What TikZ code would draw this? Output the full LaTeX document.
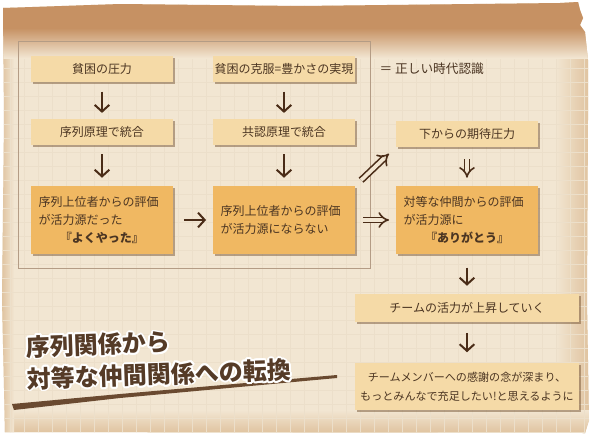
\documentclass[tikz,border=0pt]{standalone}
\usepackage{fontspec}
\newfontfamily\jp{Noto Sans CJK JP}
\usepackage{contour}
\contourlength{1.3pt}
\usetikzlibrary{arrows.meta, positioning, shadows}

\definecolor{paper}{HTML}{F2E6D2}
\definecolor{gridc}{HTML}{ECDFCA}
\definecolor{band}{HTML}{C69163}
\definecolor{edge}{HTML}{DDBE98}
\definecolor{boxlight}{HTML}{F5DAA7}
\definecolor{boxdark}{HTML}{F0B862}
\definecolor{ink}{HTML}{4B3522}
\definecolor{arrowc}{HTML}{4A2C17}
\definecolor{framec}{HTML}{B49C85}
\definecolor{brush}{HTML}{6A4A30}

\begin{document}
\begin{tikzpicture}[x=0.75pt, y=-0.75pt, font=\jp\fontsize{9}{13.5}\selectfont,
    every node/.style={text=ink},
    pale/.style={fill=boxlight, align=center, inner sep=0pt,
        minimum width=106.5pt, minimum height=19.5pt,
        drop shadow={shadow xshift=1.2pt, shadow yshift=-1.5pt, opacity=0.45, fill=brown!55!black}},
    deep/.style={pale, fill=boxdark, minimum height=51pt, text width=95pt, align=left},
    wide/.style={pale, minimum width=168pt, minimum height=21pt},
    dn/.style={draw=arrowc, line width=1.5pt, -{Straight Barb[length=5pt, width=11pt]}},
    dbl/.style={draw=arrowc, double=paper, double distance=2.8pt, line width=1.2pt, -{Implies}}]

    % paper
    \useasboundingbox (0,0) rectangle (594,436);
    \fill[white] (0,0) rectangle (594,436);
    \path[fill=paper] (3,8) -- (120,4) -- (300,6) -- (560,3) -- (578,2) -- (580,10)
        -- (583,18) -- (580,25) -- (585,32) -- (588,60) -- (588,120) -- (587,300) -- (589,420)
        -- (585,433) -- (5,432) -- (2,300) -- (4,120) -- cycle;
    \begin{scope}
        \clip (3,8) -- (120,4) -- (300,6) -- (560,3) -- (578,2) -- (580,10)
            -- (583,18) -- (580,25) -- (585,32) -- (588,60) -- (588,120) -- (587,300) -- (589,420)
            -- (585,433) -- (5,432) -- (2,300) -- (4,120) -- cycle;
        \shade[left color=paper, right color=edge] (555,0) rectangle (594,436);
        \shade[top color=paper, bottom color=edge] (0,410) rectangle (594,436);
        \shade[left color=edge, right color=paper] (0,0) rectangle (14,436);
        \foreach \gx in {10,24,...,590}
            \draw[gridc, line width=0.3pt] (\gx,0) -- (\gx,436);
        \foreach \gy in {40,54,...,434}
            \draw[gridc, line width=0.3pt] (0,\gy) -- (594,\gy);
        \fill[band] (0,0) rectangle (594,28);
        \shade[top color=band, bottom color=paper] (0,28) rectangle (594,58);
    \end{scope}
    \draw[framec, line width=0.6pt] (18,41) rectangle (370,268);

    % left and middle columns
    \node[pale] (p1) at (102,69) {貧困の圧力};
    \node[pale] (s1) at (102,131.5) {序列原理で統合};
    \node[deep] (d1) at (102,220) {序列上位者からの評価\\が活力源だった\\
        \hspace*{\fill}{\bfseries『よくやった』}\hspace*{\fill}};

    \node[pale] (p2) at (284,69) {貧困の克服=豊かさの実現};
    \node[pale] (s2) at (284,131.5) {共認原理で統合};
    \node[deep] (d2) at (284,220) {序列上位者からの評価\\が活力源にならない};

    \node[anchor=west, font=\jp\fontsize{9.5}{12}\selectfont] (eq) at (375,69) {＝ 正しい時代認識};

    % right column
    \node[pale] (u3) at (467,134) {下からの期待圧力};
    \node[deep] (d3) at (467,220) {対等な仲間からの評価\\が活力源に\\
        \hspace*{\fill}{\bfseries『ありがとう』}\hspace*{\fill}};
    \node[wide] (r1) at (467,308) {チームの活力が上昇していく};
    \node[wide, minimum height=35pt, font=\jp\fontsize{8.3}{14}\selectfont] (r2) at (467,386.5)
        {チームメンバーへの感謝の念が深まり、\\もっとみんなで充足したい!と思えるように};

    \draw[dn, shorten <=7pt, shorten >=4pt] (p1) -- (s1);
    \draw[dn, shorten <=7pt, shorten >=6pt] (s1) -- (d1);
    \draw[dn, shorten <=7pt, shorten >=4pt] (p2) -- (s2);
    \draw[dn, shorten <=7pt, shorten >=6pt] (s2) -- (d2);
    \draw[dn, shorten <=8pt, shorten >=5pt] (d1) -- (d2);
    \draw[dbl, shorten <=6pt, shorten >=5pt] (d2) -- (d3);
    \draw[dbl, shorten <=6pt, shorten >=7pt] (d2.north east) -- (u3.south west);
    \draw[dbl, shorten <=9pt, shorten >=6pt] (u3) -- (d3);
    \draw[dn, shorten <=10pt, shorten >=6pt] (d3) -- (r1);
    \draw[dn, shorten <=8pt, shorten >=8pt] (r1) -- (r2);

    % title
    \fill[brush] (12,404) -- (120,394) -- (337,375) -- (337,378) -- (120,398) -- (14,410) -- cycle;
    \node[anchor=west, rotate=2, align=left, text=brush!80!black,
        font=\jp\fontsize{18}{24}\selectfont\bfseries] (ttl) at (22,364)
        {\contour{white}{序列関係から}\\\contour{white}{対等な仲間関係への転換}};
\end{tikzpicture}
\end{document}
